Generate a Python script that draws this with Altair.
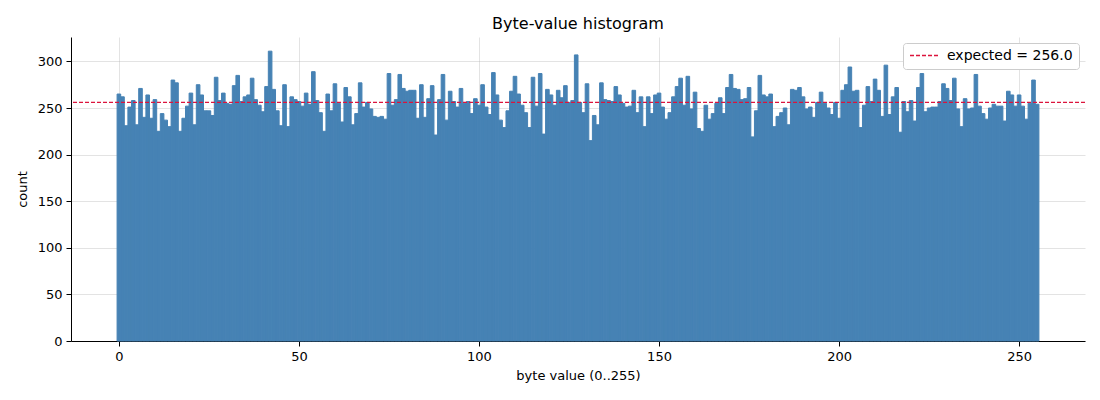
import altair as alt
import pandas as pd

byte_values = list(range(256))
counts = [
    265, 262, 231, 251, 258, 232, 271, 240, 264, 239, 259, 225, 244, 237, 230, 280,
    277, 225, 239, 252, 266, 232, 275, 264, 247, 247, 242, 283, 258, 266, 255, 254,
    274, 285, 257, 262, 264, 282, 259, 253, 246, 273, 311, 270, 247, 231, 275, 230,
    262, 259, 257, 252, 266, 254, 289, 258, 245, 225, 265, 247, 276, 255, 235, 272,
    262, 232, 244, 277, 251, 256, 249, 241, 240, 241, 238, 287, 253, 259, 286, 271,
    268, 269, 269, 239, 275, 240, 260, 274, 221, 259, 286, 237, 268, 257, 251, 271,
    255, 257, 244, 260, 253, 275, 251, 243, 288, 264, 237, 229, 247, 268, 284, 265,
    253, 245, 229, 283, 252, 287, 222, 270, 264, 253, 269, 261, 274, 256, 258, 307,
    256, 245, 276, 215, 242, 232, 277, 259, 258, 257, 273, 264, 255, 251, 252, 269,
    245, 262, 230, 262, 244, 264, 266, 251, 238, 245, 262, 273, 282, 253, 284, 249,
    267, 228, 225, 253, 238, 244, 255, 261, 244, 272, 286, 271, 270, 259, 260, 272,
    219, 247, 285, 264, 262, 265, 230, 241, 245, 250, 232, 270, 269, 272, 262, 249,
    251, 240, 256, 267, 255, 250, 243, 256, 239, 269, 275, 294, 268, 269, 229, 253,
    273, 257, 281, 269, 241, 296, 243, 262, 272, 224, 257, 246, 258, 236, 272, 287,
    246, 250, 251, 251, 257, 276, 271, 258, 282, 249, 230, 260, 249, 250, 286, 252,
    244, 238, 250, 254, 252, 252, 236, 268, 264, 252, 264, 252, 238, 255, 280, 254,
]
expected_value = [256.0]
expected_label = ["expected = 256.0"]
x_ticks = [0, 50, 100, 150, 200, 250]
y_ticks = [0, 50, 100, 150, 200, 250, 300]

hist_df = pd.DataFrame({"byte": byte_values, "count": counts})
exp_df = pd.DataFrame({"expected": expected_value, "label": expected_label})

FONT = "DejaVu Sans"
BAR = "#4682b4"
RED = "#dc143c"

x_scale = alt.Scale(domain=[-13.3, 268.3], nice=False, zero=False)
y_scale = alt.Scale(domain=[0, 326.2], nice=False)

bars = (
    alt.Chart(hist_df)
    .transform_calculate(x0="datum.byte - 0.5", x1="datum.byte + 0.5")
    .mark_rect(color=BAR, stroke=BAR, strokeWidth=1)
    .encode(
        x=alt.X(
            "x0:Q",
            scale=x_scale,
            axis=alt.Axis(title="byte value (0..255)", values=x_ticks, format="d"),
        ),
        x2="x1:Q",
        y=alt.Y(
            "count:Q",
            scale=y_scale,
            axis=alt.Axis(title="count", values=y_ticks, format="d"),
        ),
        y2=alt.datum(0),
    )
)

rule = (
    alt.Chart(exp_df)
    .mark_rule(strokeDash=[4, 2], strokeWidth=1.2)
    .encode(
        y=alt.Y("expected:Q", scale=y_scale),
        stroke=alt.Stroke(
            "label:N",
            scale=alt.Scale(range=[RED]),
            legend=alt.Legend(
                title=None,
                orient="top-right",
                offset=6,
                symbolType="stroke",
                symbolDash=[4, 2],
                symbolStrokeWidth=1.3,
                symbolOpacity=1,
                symbolSize=784,
                labelFontSize=14,
                labelFont=FONT,
                labelColor="#000000",
                labelOffset=8,
                clipHeight=13,
                fillColor="white",
                strokeColor="#cccccc",
                cornerRadius=3,
                padding=6,
            ),
        ),
    )
)

chart = (
    alt.layer(bars, rule)
    .properties(
        width=1014,
        height=304,
        padding={"left": 8, "top": 8, "right": 5, "bottom": 5},
        title=alt.Title("Byte-value histogram", fontSize=16, font=FONT, fontWeight="normal", color="#000000", offset=5),
    )
    .configure_view(stroke=None)
    .configure_axis(
        labelFont=FONT,
        titleFont=FONT,
        labelFontSize=13,
        titleFontSize=13,
        titleFontWeight="normal",
        labelColor="#000000",
        titleColor="#000000",
        domainColor="#000000",
        tickColor="#000000",
        tickSize=5,
        labelPadding=4,
        grid=True,
        gridColor="#b0b0b0",
        gridOpacity=0.35,
        zindex=1,
    )
    .configure_axisX(titlePadding=6)
    .configure_axisY(titlePadding=8)
)

chart.save("out.html", embed_options={"renderer": "svg", "actions": False})
